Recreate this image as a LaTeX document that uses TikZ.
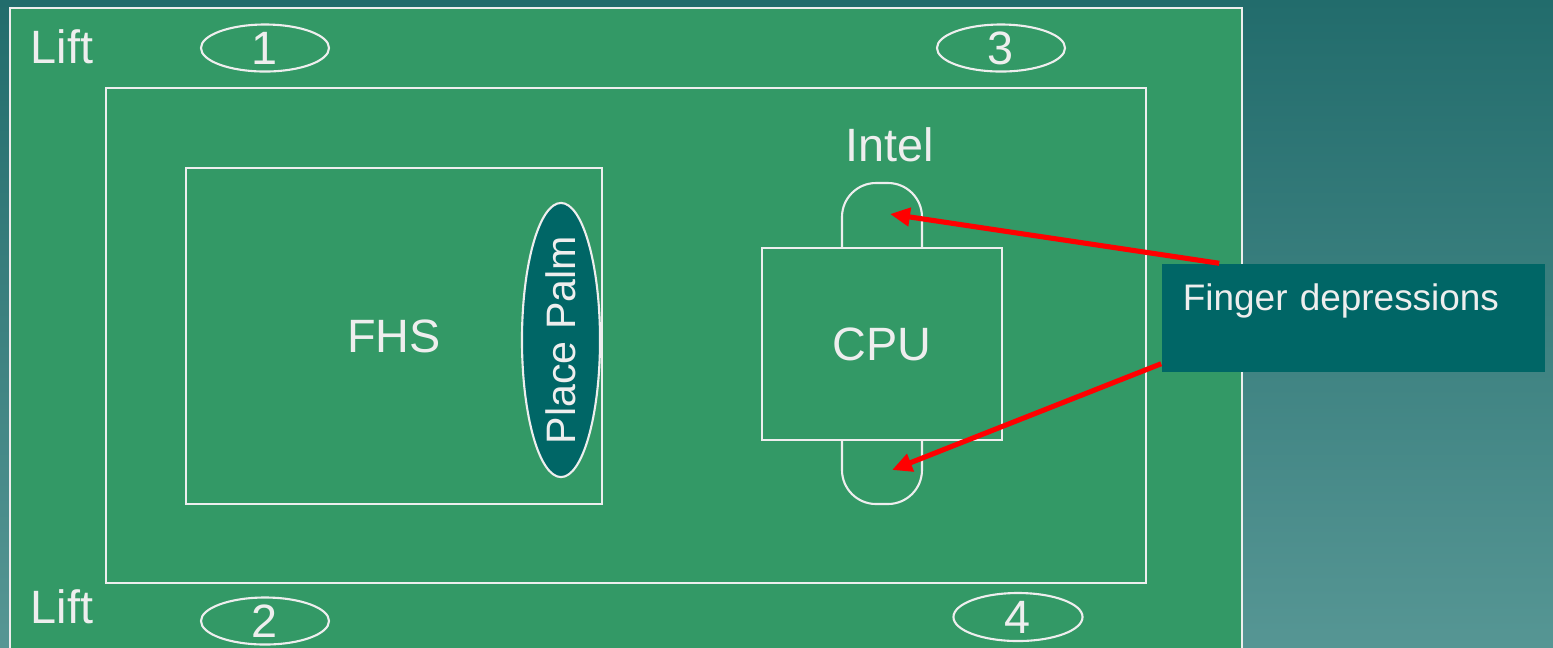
\documentclass[tikz,border=0pt]{standalone}
\usepackage{fontspec}
\setmainfont{Liberation Sans}
\usetikzlibrary{arrows.meta, shapes.geometric}
\definecolor{boardgreen}{RGB}{51,153,102}
\definecolor{palmteal}{RGB}{0,102,102}
\definecolor{chalk}{RGB}{238,238,238}
\definecolor{bgtop}{RGB}{34,108,108}
\definecolor{bgbottom}{RGB}{86,150,148}

\begin{document}
\begin{tikzpicture}[x=0.01cm, y=-0.01cm,
    every node/.style={font=\fontsize{13.3}{16}\selectfont, text=chalk, inner sep=0pt},
    outline/.style={draw=chalk, line width=0.6pt},
    pointer/.style={red, line width=1.45pt, -{Triangle[length=0.2cm, width=0.18cm]}}]
    \useasboundingbox (0,0) rectangle (1553,647);
    \clip (0,0) rectangle (1553,647);
    \shade[top color=bgtop, bottom color=bgbottom] (0,0) rectangle (1553,647);
    \draw[outline, fill=boardgreen] (10,8) rectangle (1242,690);
    \node[outline, minimum width=10.4cm, minimum height=4.95cm] (tray) at (626,335.5) {};
    \node (liftup) at (62,47) {Lift};
    \node (liftdown) at (62,607) {Lift};
    \node[outline, ellipse, minimum width=1.28cm, minimum height=0.47cm] (corner1) at (265,48) {1};
    \node[outline, ellipse, minimum width=1.28cm, minimum height=0.47cm] (corner2) at (265,621) {2};
    \node[outline, ellipse, minimum width=1.28cm, minimum height=0.47cm] (corner3) at (1001,48) {3};
    \node[outline, ellipse, minimum width=1.29cm, minimum height=0.48cm] (corner4) at (1018,617) {4};
    \node[outline, minimum width=4.16cm, minimum height=3.36cm] (fhs) at (394,336) {FHS};
    \node[outline, ellipse, fill=palmteal, font=\fontsize{11.7}{14}\selectfont, minimum width=2.74cm, minimum height=0.78cm, rotate=90] (palm) at (561,340) {\makebox[0pt]{Place Palm}};
    \draw[outline, rounded corners=0.34cm] (842,300) -- (842,183) -- (922,183) -- (922,300);
    \draw[outline, rounded corners=0.34cm] (842,400) -- (842,504) -- (922,504) -- (922,400);
    \node[outline, fill=boardgreen, minimum width=2.4cm, minimum height=1.92cm] (cpu) at (882,344) {CPU};
    \node (intel) at (890,145) {Intel};
    \coordinate (dimpletop) at (890,214);
    \coordinate (dimplebot) at (892,470);
    \node[fill=palmteal, font=\fontsize{10.5}{12.6}\selectfont, text width=3.41cm, align=left,
        inner xsep=0.21cm, inner ysep=0.19cm, text height=0.27cm, text depth=0.43cm] (fingerbox) at (1353.5,318) {Finger depressions};
    \draw[pointer] ([xshift=0.58cm]fingerbox.north west) -- (dimpletop);
    \draw[pointer] ([yshift=0.09cm]fingerbox.south west) -- (dimplebot);
\end{tikzpicture}
\end{document}
